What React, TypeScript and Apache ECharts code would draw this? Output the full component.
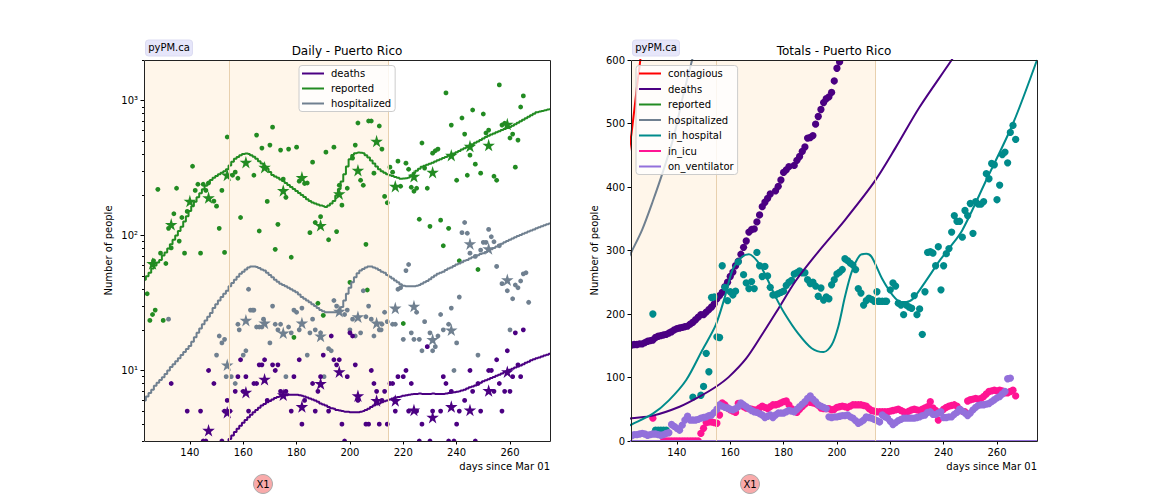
import React, { useEffect, useRef } from "react";
import * as echarts from "echarts";

const FONT = "DejaVu Sans";
const X_MIN = 122.8;
const X_MAX = 275;
const X_TICKS = [140, 160, 180, 200, 220, 240, 260];
const LOG_MAJOR = [10, 100, 1000];
const LOG_MINOR = [3, 4, 5, 6, 7, 8, 9, 20, 30, 40, 50, 60, 70, 80, 90, 200, 300, 400, 500, 600, 700, 800, 900, 2000];
const LOG_LABELS: Record<number, string> = { 10: "10¹", 100: "10²", 1000: "10³" };
const TOTAL_TICKS = [0, 100, 200, 300, 400, 500, 600];
const SHADE_END_1 = 154.7;
const SHADE_END_2 = 214.3;

// Daily model lines (left panel): first entry is day 123
const dailyReportedLine = [
  47, 50, 53, 57, 60, 63, 66,
  71, 75, 80, 86, 93, 100, 108, 116, 127, 139,
  152, 165, 178, 192, 206, 220, 234, 247, 258, 268,
  276, 284, 292, 300, 310, 330, 352, 370, 382, 394,
  402, 406, 402, 393, 383, 370, 355, 342, 328, 312,
  296, 281, 274, 268, 260, 254, 245, 237, 229, 221,
  214, 207, 200, 193, 186, 180, 176, 173, 170, 167,
  165, 163, 167, 173, 180, 198, 221, 252, 285, 325,
  368, 395, 408, 412, 411, 408, 394, 379, 360, 342,
  325, 310, 300, 292, 285, 280, 276, 272, 268, 264,
  265, 266, 269, 280, 291, 302, 313, 323, 329, 335,
  341, 347, 354, 361, 368, 375, 382, 390, 398, 406,
  415, 424, 434, 444, 453, 463, 475, 487, 498, 511,
  524, 537, 549, 560, 571, 582, 593, 605, 616, 627,
  638, 650, 668, 686, 704, 722, 740, 760, 780, 800,
  820, 829, 838, 848, 858, 868,
];
const dailyHospitalizedLine = [
  6, 6.4, 6.8, 7.2, 7.7, 8.1, 8.5,
  8.9, 9.4, 10, 10.6, 11.1, 11.7, 12.3, 13, 13.7, 14.4,
  15.2, 16.3, 17.6, 19, 20.5, 22, 23.5, 25, 26.7, 29,
  31, 33, 35, 37, 39, 42, 44.5, 47, 49.5, 52,
  54, 56, 58, 59, 59, 58.5, 57.5, 56, 55, 53,
  51, 49, 47, 45.5, 44, 43, 42, 41, 40, 39,
  38, 36.5, 35, 34, 33, 32, 31, 30, 29, 28,
  27.5, 27, 27, 27, 27, 27, 28, 29.5, 33, 37,
  41, 45, 49, 52.5, 55, 56.5, 58, 59, 59, 58,
  57, 55.5, 54, 53, 51, 49.5, 48, 46.5, 45, 43.5,
  42.5, 42, 42, 42, 42, 42.5, 43, 44, 45, 46,
  47.5, 49, 50.5, 52, 53, 54, 55.5, 57, 58, 59.5,
  61, 62, 63.5, 65, 66, 67.5, 69, 70, 71.5, 73,
  74, 75.5, 77, 79, 81, 83, 85, 87, 89, 91,
  93, 95, 97, 99, 101, 103, 105, 107, 109, 111,
  113, 115, 117, 119, 121, 123,
];
// first entry is day 154
const dailyDeathsLine = [
  2.9, 3.1, 3.3, 3.5, 3.7, 3.9,
  4.1, 4.3, 4.5, 4.7, 4.9, 5.1, 5.3, 5.5, 5.65, 5.8,
  5.95, 6.1, 6.25, 6.35, 6.45, 6.5, 6.55, 6.6, 6.6, 6.6,
  6.6, 6.55, 6.5, 6.4, 6.3, 6.2, 6.1, 6, 5.85, 5.7,
  5.6, 5.5, 5.35, 5.25, 5.2, 5.1, 5.05, 5, 4.95, 4.95,
  4.9, 4.9, 4.9, 4.9, 4.95, 5, 5.1, 5.2, 5.35, 5.5,
  5.6, 5.7, 5.8, 5.9, 6, 6.1, 6.2, 6.3, 6.35, 6.4,
  6.5, 6.55, 6.6, 6.65, 6.7, 6.7, 6.75, 6.7, 6.7, 6.7,
  6.7, 6.75, 6.7, 6.7, 6.7, 6.7, 6.75, 6.8, 6.85, 6.9,
  6.95, 7, 7.1, 7.2, 7.35, 7.5, 7.6, 7.75, 7.9, 8.1,
  8.3, 8.45, 8.6, 8.8, 8.95, 9.15, 9.3, 9.5, 9.7, 9.9,
  10.1, 10.3, 10.5, 10.7, 10.9, 11.1, 11.4, 11.6, 11.9, 12.1,
  12.3, 12.5, 12.7, 12.9, 13.1, 13.3,
];

// Daily observations [day, count]
const dailyReportedDots = [
  [124, 37], [125, 23.5], [126, 26], [127, 28], [128, 220], [126.4, 65], [129, 74], [130, 23.5], [131, 62], [132, 113], [133, 81], [134, 145], [135, 224], [136, 91], [137, 136], [138, 74], [139, 151],
  [141, 326], [142, 216], [143, 240], [144, 74], [145, 240], [146, 216], [147, 245], [149, 180], [150, 165], [151, 113], [152, 216], [153, 75], [154, 537], [156, 280], [157, 295], [158, 266], [159, 136],
  [164, 280], [165, 555], [166, 108], [167, 445], [169, 179], [170, 468], [171, 636], [172, 79], [173, 121], [174, 430], [175, 262], [176, 192], [177, 437], [178, 69], [179, 17.6], [180, 452], [181, 253], [183, 243], [184, 245], [185, 105], [186, 350], [187, 125], [188, 31.5], [189, 138], [190, 25.6], [191, 415], [192, 93], [194, 452], [195, 107], [196, 236], [197, 168], [199, 224],
  [200, 45], [201, 375], [202, 468], [203, 682], [204, 257], [205, 236], [206, 86], [206.5, 39.5], [207, 706], [208, 706], [209, 290], [211, 648], [212, 437], [213, 195], [214, 175], [215, 321], [216, 295], [218, 356], [219, 232],
  [220, 22.3], [221, 344], [222, 310], [223, 228], [224, 213], [225, 224], [226, 132], [227, 485], [228, 316], [229, 224], [230, 117], [231, 408], [232, 425], [233, 437], [234, 130], [235, 84], [236, 1140], [237, 113], [238, 659], [240, 257], [241, 65], [242, 743], [243, 565], [244, 280], [245, 394], [246, 852], [247, 338], [248, 56], [249, 290], [250, 796], [251, 575], [252, 605], [254, 275], [255, 257], [256, 1308], [257, 659], [258, 680], [260, 528], [261, 565], [262, 321], [263, 510], [264, 897], [265, 1083],
];
const dailyHospitalizedDots = [
  [132, 24], [150, 13], [151, 18], [152, 16], [153, 17], [153.6, 9], [155.5, 9], [157, 8], [158, 22], [158.5, 20], [160, 13], [161, 14], [162, 40], [162.7, 28], [163.5, 28], [164, 28], [165, 21], [166, 21], [167, 21], [167.6, 24], [170, 16], [171, 30], [172, 22], [173, 20], [174, 22], [176, 9], [177, 21], [178, 19], [179, 28], [180, 27], [181, 20], [182, 29], [184, 13], [185, 19], [186, 24], [187, 20], [189, 19], [190.3, 9], [192, 14.5], [193, 14], [194, 33], [195, 30], [198, 26], [199, 28], [200, 20], [201, 24], [202, 18], [204, 19], [205, 39], [206, 25], [207, 30], [208, 24], [209, 18], [211, 20], [211.7, 20], [212, 22], [213, 27], [214, 23], [216, 22], [217, 22], [218, 40], [219, 41], [220, 17], [221, 55], [222, 61], [223, 19], [224, 17], [225, 27], [226, 17], [227, 14], [228, 23], [230, 19], [231, 14], [232, 15], [233, 18], [234, 26], [235, 20], [237, 22], [238, 29], [239, 10], [240, 16], [241, 35], [242, 105], [243, 125], [244, 104], [245, 74], [247, 70], [248, 13], [249, 78], [250, 89], [251, 89], [252, 111], [253, 98], [254, 90], [255, 59], [256, 84], [257, 44], [259, 39], [260, 20], [261, 34], [262, 43], [263, 41], [264, 46], [265, 52], [266, 53], [267, 32],
];
const dailyDeathsDots = [
  [133, 8], [139, 5], [144, 5], [145, 3], [146, 3], [147, 10], [149, 8], [152, 3], [153, 5], [154, 6], [155, 5], [157, 7], [158, 9], [159, 12], [160, 7], [161, 9], [162, 5], [164, 8], [165, 8], [166, 11], [167, 11], [168, 12], [169, 6], [171, 11], [172, 10], [173, 11], [174, 7], [176, 7], [178, 5], [179, 9], [181, 12], [182, 4], [183, 6], [186, 8], [187, 5], [188, 7], [189, 9], [190, 13], [192, 5], [193, 18], [194, 12], [195, 11], [196, 12], [197, 4], [198, 3], [199, 9], [200, 19], [201, 18], [202, 11], [203, 6], [206, 4], [207, 4], [208, 10], [209, 8], [210, 7], [211, 4], [212, 6], [213, 7], [214, 4], [215, 8], [216, 8], [217, 5], [218, 9], [220, 9], [221, 10], [222, 5], [223, 8], [225, 5], [226, 3], [227, 4], [229, 15], [230, 3], [231, 5], [234, 5], [235, 9], [236, 8], [237, 3], [238, 7], [239, 3], [240, 4], [241, 5], [243, 6], [245, 10], [246, 7], [247, 3], [248, 8], [249, 5], [252, 10], [253, 10], [254, 7], [255, 12], [256, 8], [257, 5], [258, 7], [259, 14], [260, 7], [261, 9], [262, 19], [263, 11], [264, 9], [265, 20],
];

// Weekly averages [day, value]
const weeklyReported = [
  [126, 62], [133, 121], [140, 180], [147, 191], [154, 281], [161, 350], [168, 321], [175, 216], [182, 270], [189, 119], [196, 204], [203, 305], [210, 501], [217, 232], [224, 275], [231, 295], [238, 394], [245, 460], [252, 468], [259, 670],
];
const weeklyHospitalized = [
  [154, 11], [161, 23.6], [168, 22.5], [175, 19], [182, 22.5], [189, 18], [196, 27.5], [203, 25], [210, 22.5], [217, 29], [224, 30], [231, 17], [238, 20], [245, 87], [252, 80], [259, 47],
];
const weeklyDeaths = [
  [147, 3.6], [154, 4.9], [161, 6.9], [168, 8.6], [175, 6.6], [182, 5.4], [189, 8], [196, 9.8], [203, 6.5], [210, 6], [217, 6], [224, 5.1], [231, 4.5], [238, 5.4], [245, 5.1], [252, 7.1], [259, 9.8],
];

// Right panel model lines [day, people]
const totalContagiousLine = [[122, 455], [123, 485], [124, 520], [125, 557], [126, 590], [127, 625]];
const totalHospitalizedLine = [[122, 290], [123, 298], [127, 333], [131, 378], [135, 427], [139, 482], [142, 538], [146, 605], [148, 640]];
const totalDeathsLine = [
  [122, 35], [123, 36], [131, 40], [141, 54], [148.5, 70], [154.5, 85], [159.5, 101], [166, 130], [172, 168], [178, 208], [184.5, 252], [193, 298], [203, 348], [214, 408], [222, 462], [231, 526], [243, 600], [246, 620],
];
const totalInHospitalLine = [
  [122, 24], [123, 26], [131, 43], [137, 64], [143.5, 96], [149.5, 143], [154.5, 182], [158, 227], [161, 271], [164.5, 290], [167, 294], [170, 284], [173, 263], [177, 227], [180.5, 200], [185.5, 169], [190.5, 146], [195, 140], [198, 151], [200.5, 180], [203, 227], [205.5, 266], [208.5, 292], [211, 295], [213, 290], [217, 255], [221, 229], [224, 219], [226, 219], [228.5, 224], [233.5, 253], [238.5, 284], [242, 303], [247, 332], [256, 411], [266, 500], [275, 600],
];
const totalReportedLine = [[122, 2400], [275, 30000]];
const totalInIcuLine = [[122, 0], [275, 0]];
const totalOnVentilatorLine = [[122, 0], [275, 0]];

// Right panel observations
const totalDeathsDots = [
  [123, 151], [124, 152], [125, 152], [126, 153], [127, 153], [128, 155], [129, 157], [130, 158], [131, 159], [132, 163], [133, 165], [134, 166], [135, 167], [136, 168], [137, 170], [138, 172], [139, 175], [140, 177], [141, 178], [142, 179], [143, 180], [144, 181], [145, 184], [146, 187], [147, 191], [148, 195], [149, 199], [150, 199], [151, 203], [152, 207], [153, 211], [154, 216], [155, 224], [156, 229], [157, 234], [158, 243], [159, 250], [160, 259], [161, 266], [162, 276], [163, 283], [164, 294], [165, 305], [166, 315], [167, 329], [168, 333], [169, 334], [170, 345], [171, 356], [172, 369], [173, 376], [174, 382], [175, 389], [177, 394], [178, 401], [179, 411], [180, 423], [181, 427], [182, 432], [184, 434], [185, 442], [186, 448], [187, 456], [188, 463], [189, 477], [190, 478], [191, 481], [192, 499], [193, 511], [194, 522], [195, 533], [196, 539], [197, 542], [198, 549], [199, 567], [200, 587], [201, 597], [202, 606],
];
const totalHospitalDots = [
  [131, 200], [132, 17], [133, 17], [134, 17], [135, 17], [136, 17], [146, 69], [149, 72], [150, 86], [151, 138], [152, 109], [153, 226], [154, 227], [155, 164], [156, 163], [157, 276], [158, 242], [159, 221], [160, 235], [161, 230], [162, 236], [163, 282], [165, 262], [166, 249], [167, 240], [168, 251], [169, 240], [170, 297], [171, 276], [172, 259], [173, 275], [174, 260], [175, 242], [176, 230], [177, 230], [178, 232], [179, 234], [180, 236], [181, 245], [182, 250], [183, 253], [184, 263], [185, 265], [186, 268], [187, 265], [188, 265], [189, 254], [190, 248], [191, 250], [192, 244], [193, 228], [194, 241], [195, 222], [196, 227], [197, 224], [198, 246], [199, 254], [200, 263], [201, 266], [202, 270], [203, 287], [204, 284], [205, 280], [206, 277], [207, 270], [208, 240], [209, 233], [210, 214], [211, 221], [212, 225], [213, 223], [214, 220], [215, 235], [215.5, 220], [216, 220], [217, 220], [218, 220], [218.6, 220], [220, 238], [221, 249], [222, 244], [223, 217], [224, 214], [225, 199], [226, 214], [227, 211], [228, 209], [229, 229], [230, 199], [231, 208], [232, 168], [233, 235], [234, 297], [235, 298], [236, 296], [237, 276], [238, 306], [239, 238], [240, 276], [241, 295], [242, 303], [243, 329], [244, 355], [245, 346], [246, 346], [247, 321], [248, 363], [249, 355], [250, 374], [251, 327], [252, 377], [253, 373], [254, 373], [255, 377], [256, 421], [257, 413], [258, 437], [259, 435], [260, 380], [261, 403], [262, 451], [263, 455], [264, 438], [265, 486], [266, 497], [267, 475],
];
const totalIcuSpot = [[131, 36]];
// first entry is day 135
const totalIcuValues = [
  0, 0, 0, 0, 0,
  0, 0, 0, 0, 0, 0, 0, 0, 0, 12,
  20, 29, 30, 30, 29, 28, 41, 60, 57, 52,
  49, 47, 45, 59, 56, 54, 52, 51, 50, 49,
  49, 52, 55, 53, 51, 54, 57, 57, 58, 60,
  62, 63, 57, 51, 48, 45, 50, 54, 58, 62,
  61, 60, 59, 56, 52, 51, 51, 51, 49, 50,
  53, 54, 55, 54, 53, 55, 57, 57, 57, 57,
  56, 55, 51, 48, 47, 46, 46, 46, 46, 46,
  47, 48, 49, 50, 48, 46, 45, 47, 49, 50,
  49, 48, 50, 52, 54, 62, 52, 48, 33, 46,
  50, 53, 55, 56, 57, 55, 50, 47, 46, 63,
  65, 66, 67, 66, 67, 70, 74, 78, 79, 80,
  79, 80, 79, 76, 76, 78, 80, 71,
];
// first entry is day 123
const totalVentilatorValues = [
  8, 10, 10, 11, 12, 11, 9,
  10, 11, 11, 10, 9, 10, 12, 13, 26, 23,
  20, 17, 25, 33, 39, 33, 33, 33, 34, 36,
  37, 38, 40, 41, 45, 50, 57, 55, 53, 52,
  50, 49, 51, 54, 60, 57, 54, 51, 48, 46,
  45, 43, 41, 37, 39, 41, 37, 41, 44, 44,
  44, 46, 48, 47, 46, 50, 54, 58, 62, 67,
  71, 66, 62, 57, 55, 53, 51, 38, 37, 38,
  38, 39, 40, 40, 41, 38, 36, 32, 28, 30,
  33, 38, 37, 36, 34, 32, 30, 41, 38, 36,
  31, 26, 29, 32, 34, 36, 36, 36, 36, 36,
  37, 38, 40, 41, 45, 46, 42, 42, 44, 46,
  37, 37, 38, 38, 42, 45, 50, 47, 44, 40,
  44, 49, 53, 56, 57, 57, 58, 59, 62, 65,
  68, 70, 74, 78, 98, 99,
];

const C = {
  contagious: "#ff0000",
  deaths: "#4b0082",
  reported: "#228b22",
  hospitalized: "#708090",
  inHospital: "#008b8b",
  inIcu: "#ff1493",
  ventilator: "#9370db",
  shade: "#fff6ea",
  shadeEdge: "#e8d0ae",
};
const STAR = "path://M50,0 L61,35 L98,35 L68,57 L79,91 L50,70 L21,91 L32,57 L2,35 L39,35 Z";

const fromDay = (start: number, values: number[]) => values.map((v, i) => [start + i, v]);

function shadeSeries(xAxisIndex: number, yAxisIndex: number) {
  return {
    name: "shade" + xAxisIndex,
    type: "line",
    xAxisIndex,
    yAxisIndex,
    data: [],
    z: 0,
    silent: true,
    markArea: {
      silent: true,
      itemStyle: { color: C.shade, opacity: 1 },
      data: [[{ xAxis: X_MIN }, { xAxis: SHADE_END_2 }]],
    },
    markLine: {
      silent: true,
      symbol: "none",
      label: { show: false },
      lineStyle: { color: C.shadeEdge, width: 1, type: "solid" },
      data: [{ xAxis: SHADE_END_1 }, { xAxis: SHADE_END_2 }],
    },
  };
}
function line(name: string, color: string, data: any, x: number, y: number, extra: any = {}) {
  return {
    name, type: "line", data, xAxisIndex: x, yAxisIndex: y, showSymbol: false, symbol: "none",
    lineStyle: { color, width: 2 }, itemStyle: { color }, z: 3, ...extra,
  };
}
// Round dots drawn by a custom series so that they are cut by the plot frame.
function dots(name: string, color: string, data: any, x: number, y: number, size: number, z = 2) {
  return {
    name, type: "custom", data, xAxisIndex: x, yAxisIndex: y, z, clip: true, silent: true,
    encode: { x: 0, y: 1 },
    renderItem: (_p: any, api: any) => {
      const p = api.coord([api.value(0), api.value(1)]);
      return { type: "circle", shape: { cx: p[0], cy: p[1], r: size / 2 }, style: { fill: color } };
    },
  };
}
function stars(name: string, color: string, data: any) {
  return { name, type: "scatter", data, xAxisIndex: 0, yAxisIndex: 0, symbol: STAR, symbolSize: 12.5, itemStyle: { color, opacity: 1 }, z: 2 };
}
function xAxis(gridIndex: number) {
  return {
    type: "value", gridIndex, min: X_MIN, max: X_MAX,
    splitLine: { show: false },
    axisLine: { show: false },
    axisTick: { show: true, length: 3.5, lineStyle: { color: "#000", width: 1 }, customValues: X_TICKS },
    axisLabel: { color: "#000", fontSize: 10, fontFamily: FONT, margin: 6, customValues: X_TICKS, formatter: (v: number) => String(v) },
  };
}
function pypm(x: number) {
  return [
    { type: "rect", shape: { x, y: 40, width: 47, height: 16, r: 3 }, style: { fill: "#e6e6fa", stroke: "#dcdcf2", lineWidth: 1 }, z: 20 },
    { type: "text", x: x + 23.5, y: 47.5, style: { text: "pyPM.ca", fontSize: 10, fontFamily: FONT, fill: "#000", align: "center", verticalAlign: "middle" }, z: 21 },
  ];
}
function badge(x: number) {
  return [
    { type: "circle", shape: { cx: x, cy: 484, r: 9.5 }, style: { fill: "#f9aaaa", stroke: "#aaaaaa", lineWidth: 1 }, z: 20 },
    { type: "text", x, y: 484, style: { text: "X1", fontSize: 10, fontFamily: FONT, fill: "#000", align: "center", verticalAlign: "middle" }, z: 21 },
  ];
}
function frame(x: number) {
  return { type: "rect", shape: { x: x + 0.5, y: 60.5, width: 406, height: 381 }, style: { fill: "none", stroke: "#222", lineWidth: 1 }, z: 19 };
}
function xName(x: number) {
  return { type: "text", x, y: 466, style: { text: "days since Mar 01", fontSize: 10, fontFamily: FONT, fill: "#000", align: "right", verticalAlign: "middle" }, z: 21 };
}
function legend(data: string[], left: number, itemGap: number) {
  return {
    data, left, top: 65.5, orient: "vertical", icon: "rect", itemWidth: 22, itemHeight: 2, itemGap,
    padding: [3, 4, 3, 3], backgroundColor: "rgba(255,255,255,0.8)", borderColor: "#cccccc", borderWidth: 1, borderRadius: 3,
    textStyle: { fontSize: 10, fontFamily: FONT, color: "#000", padding: [0, 0, 0, 2] }, selectedMode: false, z: 10,
  };
}

const option: any = {
  animation: false,
  backgroundColor: "#fff",
  title: [
    { text: "Daily - Puerto Rico", left: 347, top: 45, textAlign: "center", textStyle: { fontSize: 12, fontWeight: "normal", fontFamily: FONT, color: "#000" }, padding: 0 },
    { text: "Totals - Puerto Rico", left: 834, top: 45, textAlign: "center", textStyle: { fontSize: 12, fontWeight: "normal", fontFamily: FONT, color: "#000" }, padding: 0 },
  ],
  legend: [
    legend(["deaths", "reported", "hospitalized"], 299, 5),
    legend(["contagious", "deaths", "reported", "hospitalized", "in_hospital", "in_icu", "on_ventilator"], 636, 5.5),
  ],
  grid: [
    { left: 144, top: 60, width: 406, height: 381 },
    { left: 631, top: 60, width: 406, height: 381 },
  ],
  xAxis: [xAxis(0), xAxis(1)],
  yAxis: [
    {
      type: "log", gridIndex: 0, min: 3, max: 2000, logBase: 10,
      name: "Number of people", nameLocation: "middle", nameGap: 31, nameRotate: 90,
      nameTextStyle: { fontSize: 10, fontFamily: FONT, color: "#000" },
      splitLine: { show: false }, minorTick: { show: false }, axisLine: { show: false },
      axisTick: { show: true, length: 3.5, lineStyle: { color: "#000" }, customValues: LOG_MAJOR },
      axisLabel: { color: "#000", fontSize: 10, fontFamily: FONT, margin: 6, customValues: LOG_MAJOR, formatter: (v: number) => LOG_LABELS[Math.round(v)] ?? "" },
    },
    {
      type: "log", gridIndex: 0, min: 3, max: 2000, logBase: 10, position: "left",
      splitLine: { show: false }, minorTick: { show: false }, axisLine: { show: false },
      axisTick: { show: true, length: 2, lineStyle: { color: "#000" }, customValues: LOG_MINOR },
      axisLabel: { show: false },
    },
    {
      type: "value", gridIndex: 1, min: 0, max: 600, interval: 100,
      name: "Number of people", nameLocation: "middle", nameGap: 32, nameRotate: 90,
      nameTextStyle: { fontSize: 10, fontFamily: FONT, color: "#000" },
      splitLine: { show: false }, axisLine: { show: false },
      axisTick: { show: true, length: 3.5, lineStyle: { color: "#000" } },
      axisLabel: { color: "#000", fontSize: 10, fontFamily: FONT, margin: 6, customValues: TOTAL_TICKS },
    },
  ],
  series: [
    shadeSeries(0, 0),
    dots("daily reported", C.reported, dailyReportedDots, 0, 0, 4.8),
    dots("daily hospitalized", C.hospitalized, dailyHospitalizedDots, 0, 0, 4.8),
    dots("daily deaths", C.deaths, dailyDeathsDots, 0, 0, 4.8),
    stars("weekly reported", C.reported, weeklyReported),
    stars("weekly hospitalized", C.hospitalized, weeklyHospitalized),
    stars("weekly deaths", C.deaths, weeklyDeaths),
    line("deaths", C.deaths, fromDay(154, dailyDeathsLine), 0, 0, { step: "middle" }),
    line("reported", C.reported, fromDay(123, dailyReportedLine), 0, 0, { step: "middle" }),
    line("hospitalized", C.hospitalized, fromDay(123, dailyHospitalizedLine), 0, 0, { step: "middle" }),

    shadeSeries(1, 2),
    line("contagious", C.contagious, totalContagiousLine, 1, 2),
    line("deaths", C.deaths, totalDeathsLine, 1, 2, { smooth: 0.3 }),
    line("reported", C.reported, totalReportedLine, 1, 2),
    line("hospitalized", C.hospitalized, totalHospitalizedLine, 1, 2, { smooth: 0.3 }),
    line("in_hospital", C.inHospital, totalInHospitalLine, 1, 2, { smooth: 0.3 }),
    line("in_icu", C.inIcu, totalInIcuLine, 1, 2),
    line("on_ventilator", C.ventilator, totalOnVentilatorLine, 1, 2),
    dots("total deaths", C.deaths, totalDeathsDots, 1, 2, 7.3),
    dots("total in_hospital", C.inHospital, totalHospitalDots, 1, 2, 7.3),
    dots("total in_icu", C.inIcu, [...totalIcuSpot, ...fromDay(135, totalIcuValues)], 1, 2, 7.3),
    dots("total on_ventilator", C.ventilator, fromDay(123, totalVentilatorValues), 1, 2, 7.3),
  ],
  graphic: [
    frame(144), frame(631),
    ...pypm(145.5), ...pypm(632.5),
    ...badge(263), ...badge(750),
    xName(550), xName(1037),
  ],
};

export default function App() {
  const ref = useRef<HTMLDivElement>(null);
  useEffect(() => {
    const chart = echarts.init(ref.current!, undefined, { renderer: "svg" });
    chart.setOption(option);
    return () => chart.dispose();
  }, []);
  return <div ref={ref} style={{ position: "absolute", left: 0, top: 0, width: 1152, height: 504 }} />;
}
